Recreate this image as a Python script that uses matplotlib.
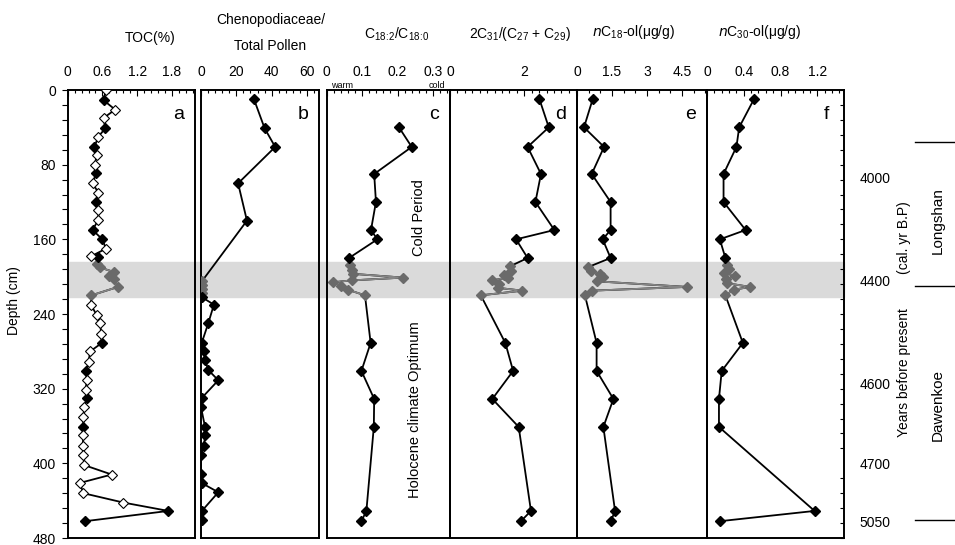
import matplotlib.pyplot as plt
from matplotlib.ticker import MultipleLocator
from matplotlib.patches import Rectangle
from matplotlib.lines import Line2D
from matplotlib.transforms import blended_transform_factory

plt.rcParams['font.family'] = ['Liberation Sans', 'DejaVu Sans']
plt.rcParams['mathtext.default'] = 'regular'

# depth band of the high resolution samples (cm)
band_top = 184
band_bottom = 222

# a: TOC (%)
toc_fill_depth = [11, 41, 61, 89, 120, 150, 160, 179, 271, 301, 330, 361, 451, 462]
toc_fill = [0.62, 0.65, 0.46, 0.49, 0.49, 0.43, 0.60, 0.52, 0.59, 0.32, 0.33, 0.27, 1.74, 0.30]
toc_open_depth = [0, 21, 30, 50, 70, 80, 100, 110, 129, 139, 170, 178, 230, 241, 250, 261,
                  280, 291, 311, 321, 340, 350, 370, 381, 391, 402, 412, 421, 432, 442]
toc_open = [0.66, 0.82, 0.62, 0.53, 0.50, 0.47, 0.43, 0.53, 0.53, 0.53, 0.66, 0.41, 0.40, 0.50,
            0.56, 0.58, 0.39, 0.36, 0.33, 0.31, 0.29, 0.27, 0.27, 0.26, 0.27, 0.29, 0.76, 0.21,
            0.27, 0.96]
toc_gray_depth = [186, 190, 195, 199, 203, 211, 220]
toc_gray = [0.50, 0.55, 0.80, 0.72, 0.80, 0.87, 0.41]

# b: Chenopodiaceae / total pollen
cheno_depth = [10, 41, 61, 100, 140, 222, 230, 250, 271, 280, 289, 300, 311, 330, 340, 361,
               370, 381, 391, 411, 421, 431, 451, 461]
cheno = [30, 36, 42, 21, 26, 0.5, 7.3, 4.1, 0.4, 1.7, 2.3, 4.1, 9.8, 0.4, 0.0, 2.3, 2.3, 1.7,
         0.0, 0.0, 0.3, 9.8, 0.5, 0.5]
cheno_gray_depth = [205, 209, 213, 217]
cheno_gray = [0.5, 0.3, 0.5, 0.3]

# c: C18:2/C18:0
c18_depth = [40, 61, 90, 120, 150, 160, 180, 271, 301, 331, 361, 451, 462]
c18 = [0.204, 0.240, 0.134, 0.139, 0.125, 0.143, 0.063, 0.124, 0.098, 0.134, 0.133, 0.112, 0.098]
c18_gray_depth = [188, 193, 197, 201, 204, 206, 210, 214, 220]
c18_gray = [0.065, 0.07, 0.075, 0.216, 0.07, 0.018, 0.04, 0.06, 0.108]

# d: 2C31/(C27+C29)
alk_depth = [10, 40, 61, 90, 120, 150, 160, 180, 271, 301, 331, 361, 451, 462]
alk = [2.41, 2.66, 2.09, 2.45, 2.30, 2.81, 1.78, 2.09, 1.49, 1.70, 1.14, 1.85, 2.18, 1.91]
alk_gray_depth = [189, 194, 198, 201, 204, 208, 212, 215, 220]
alk_gray = [1.61, 1.64, 1.45, 1.55, 1.14, 1.32, 1.30, 1.95, 0.83]

# e: nC18-ol
n18_depth = [10, 40, 61, 90, 120, 150, 160, 180, 271, 301, 331, 361, 451, 462]
n18 = [0.67, 0.30, 1.16, 0.63, 1.44, 1.44, 1.10, 1.44, 0.84, 0.84, 1.56, 1.13, 1.63, 1.45]
n18_gray_depth = [190, 194, 197, 200, 205, 211, 215, 220]
n18_gray = [0.45, 0.60, 1.0, 1.13, 0.84, 4.71, 0.63, 0.34]

# f: nC30-ol
n30_depth = [10, 40, 61, 90, 120, 150, 160, 180, 271, 301, 331, 361, 451, 462]
n30 = [0.51, 0.35, 0.32, 0.18, 0.18, 0.42, 0.14, 0.20, 0.39, 0.16, 0.13, 0.13, 1.17, 0.14]
n30_gray_depth = [188, 192, 196, 199, 203, 207, 211, 214, 220]
n30_gray = [0.22, 0.24, 0.18, 0.30, 0.21, 0.22, 0.47, 0.29, 0.20]

# top axis ticks for each panel
toc_ticks = [0, 0.6, 1.2, 1.8]
cheno_ticks = [0, 20, 40, 60]
c18_ticks = [0, 0.1, 0.2, 0.3]
alk_ticks = [0, 2]
n18_ticks = [0, 1.5, 3, 4.5]
n30_ticks = [0, 0.4, 0.8, 1.2]

# age scale on the right
age_depth = [94, 204, 314, 400, 462]
age_labels = ['4000', '4400', '4600', '4700', '5050']

W, H = 955, 545
fig = plt.figure(figsize=(W / 100, H / 100), dpi=100)


def make_axes(x0, x1):
    ax = fig.add_axes([x0 / W, 1 - 538 / H, (x1 - x0) / W, 448 / H])
    ax.set_facecolor('none')
    ax.set_ylim(480, 0)
    for s in ax.spines.values():
        s.set_linewidth(1.4)
    ax.xaxis.tick_top()
    ax.tick_params(axis='x', which='both', direction='in', top=True, bottom=False,
                   labelsize=10, pad=8, width=0.8)
    ax.tick_params(axis='x', which='major', length=4)
    ax.tick_params(axis='x', which='minor', length=2.5)
    ax.tick_params(axis='y', which='both', left=False, right=False, labelleft=False)
    return ax


def set_top(ax, xmax, ticks, minor):
    ax.set_xlim(0, xmax)
    ax.set_xticks(ticks)
    ax.set_xticklabels(['%g' % t for t in ticks])
    ax.xaxis.set_minor_locator(MultipleLocator(minor))


def draw(ax, depth, vals, gdepth, gvals, odepth=None, ovals=None):
    pts = list(zip(depth, vals)) + list(zip(gdepth, gvals))
    if odepth is not None:
        pts += list(zip(odepth, ovals))
    pts = sorted(pts)
    ax.plot([p[1] for p in pts], [p[0] for p in pts], color='k', lw=1.3, zorder=2)
    ax.plot(gvals, gdepth, color='#858585', lw=1.3, marker='D', ms=5.3,
            mfc='#6a6a6a', mec='#6a6a6a', zorder=3)
    ax.plot(vals, depth, ls='none', marker='D', ms=5.3, color='k', zorder=4)
    if odepth is not None:
        ax.plot(ovals, odepth, ls='none', marker='D', ms=5.3, mfc='white', mec='k',
                mew=0.8, zorder=4)


ax_a = make_axes(67.7, 195)
ax_b = make_axes(201, 318.5)
ax_c = make_axes(326.7, 450)
ax_d = make_axes(450, 577)
ax_e = make_axes(577, 707)
ax_f = make_axes(707, 844)

# shaded band across all panels
tr = blended_transform_factory(fig.transFigure, ax_a.transData)
fig.add_artist(Rectangle((68 / W, band_top), (844 - 68) / W, band_bottom - band_top,
                         transform=tr, color='#dadada', zorder=-1))

draw(ax_a, toc_fill_depth, toc_fill, toc_gray_depth, toc_gray, toc_open_depth, toc_open)
draw(ax_b, cheno_depth, cheno, cheno_gray_depth, cheno_gray)
draw(ax_c, c18_depth, c18, c18_gray_depth, c18_gray)
draw(ax_d, alk_depth, alk, alk_gray_depth, alk_gray)
draw(ax_e, n18_depth, n18, n18_gray_depth, n18_gray)
draw(ax_f, n30_depth, n30, n30_gray_depth, n30_gray)

set_top(ax_a, 2.2, toc_ticks, 0.12)
set_top(ax_b, 66.5, cheno_ticks, 4)
set_top(ax_c, 0.348, c18_ticks, 0.02)
set_top(ax_d, 3.42, alk_ticks, 0.2)
set_top(ax_e, 5.57, n18_ticks, 0.5)
set_top(ax_f, 1.49, n30_ticks, 0.08)

# depth axis
ax_a.set_yticks([0, 80, 160, 240, 320, 400, 480])
ax_a.yaxis.set_minor_locator(MultipleLocator(16))
ax_a.tick_params(axis='y', which='both', left=True, labelleft=True, direction='out',
                 length=4.5, width=0.8, labelsize=10, pad=4)
ax_a.set_ylabel('Depth (cm)', fontsize=10, labelpad=2)
ax_a.yaxis.set_label_coords(-0.37, 0.53)

# age axis
ax_f.set_yticks(age_depth)
ax_f.set_yticklabels(age_labels)
ax_f.yaxis.set_minor_locator(MultipleLocator(16))
ax_f.tick_params(axis='y', which='major', right=True, labelright=True, length=0,
                 labelsize=10, pad=11)
ax_f.tick_params(axis='y', which='minor', right=True, direction='in', length=3, width=0.8)

# panel letters
for ax, letter in zip([ax_a, ax_b, ax_c, ax_d, ax_e, ax_f], 'abcdef'):
    ax.text(0.87, 0.945, letter, transform=ax.transAxes, fontsize=14, ha='center', va='center')

# column titles
fig.text(150 / W, 1 - 38 / H, 'TOC(%)', fontsize=10, ha='center', va='center')
fig.text(271 / W, 1 - 20 / H, 'Chenopodiaceae/', fontsize=10, ha='center', va='center')
fig.text(270 / W, 1 - 46 / H, 'Total Pollen', fontsize=10, ha='center', va='center')
fig.text(397 / W, 1 - 34 / H, 'C$_{18\\!:\\!2}$/C$_{18\\!:\\!0}$', fontsize=10,
         ha='center', va='center')
fig.text(520 / W, 1 - 34 / H, '2C$_{31}$/(C$_{27}$ + C$_{29}$)', fontsize=10,
         ha='center', va='center')
fig.text(634 / W, 1 - 32 / H, '$\\mathit{n}$C$_{18}$-ol(μg/g)', fontsize=10,
         ha='center', va='center')
fig.text(760 / W, 1 - 32 / H, '$\\mathit{n}$C$_{30}$-ol(μg/g)', fontsize=10,
         ha='center', va='center')
fig.text(342 / W, 1 - 86 / H, 'warm', fontsize=6.5, ha='center', va='center')
fig.text(437 / W, 1 - 86 / H, 'cold', fontsize=6.5, ha='center', va='center')

ax_c.text(0.26, 137, 'Cold Period', rotation=90, fontsize=10.5, ha='center', va='center')
ax_c.text(0.25, 342, 'Holocene climate Optimum', rotation=90, fontsize=10.5,
          ha='center', va='center')

# cultural periods on the right
tr_f = blended_transform_factory(fig.transFigure, ax_f.transData)
for dd in [56, 210, 461]:
    fig.add_artist(Line2D([915 / W, 955 / W], [dd, dd], transform=tr_f, color='k', lw=1))
fig.text(938 / W, 1 - 221 / H, 'Longshan', rotation=90, fontsize=11, ha='center', va='center')
fig.text(938 / W, 1 - 405 / H, 'Dawenkoe', rotation=90, fontsize=11, ha='center', va='center')
fig.text(904 / W, 1 - 373 / H, 'Years before present', rotation=90, fontsize=10,
         ha='center', va='center')
fig.text(904 / W, 1 - 238 / H, '(cal. yr B.P)', rotation=90, fontsize=10,
         ha='center', va='center')

fig.savefig('out.png', dpi=100)
